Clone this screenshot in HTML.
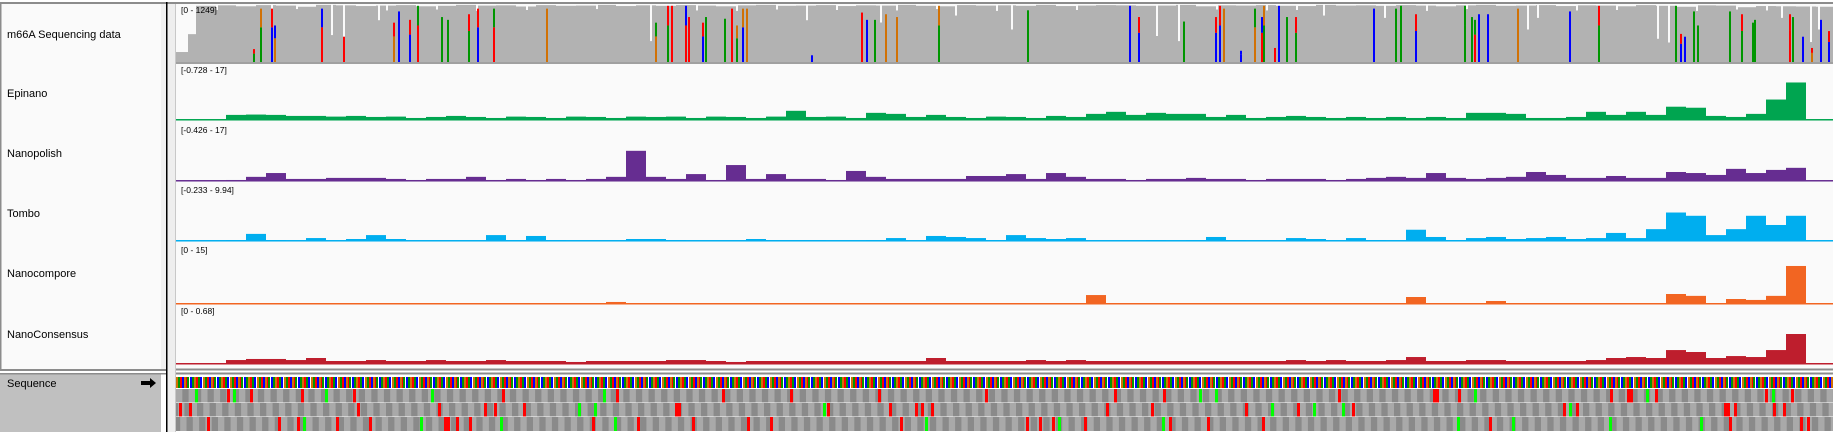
<!DOCTYPE html>
<html><head><meta charset="utf-8"><style>
html,body{margin:0;padding:0;background:#fff;}
svg{display:block;font-family:"Liberation Sans",sans-serif;}
</style></head><body>
<svg id="chart" width="1833" height="432" viewBox="0 0 1833 432" xmlns="http://www.w3.org/2000/svg">
<defs>
<pattern id="seqpat" x="176" y="0" width="27" height="12" patternUnits="userSpaceOnUse">
<rect x="0" y="0" width="2" height="12" fill="#d17105"/><rect x="2" y="0" width="2" height="12" fill="#009600"/><rect x="4" y="0" width="2" height="12" fill="#ff0000"/><rect x="6" y="0" width="2" height="12" fill="#0000ff"/><rect x="8" y="0" width="2" height="12" fill="#d17105"/><rect x="10" y="0" width="1" height="12" fill="#ff0000"/><rect x="11" y="0" width="2" height="12" fill="#009600"/><rect x="13" y="0" width="1" height="12" fill="#ffffff"/><rect x="14" y="0" width="2" height="12" fill="#0000ff"/><rect x="16" y="0" width="2" height="12" fill="#009600"/><rect x="18" y="0" width="2" height="12" fill="#d17105"/><rect x="20" y="0" width="2" height="12" fill="#ff0000"/><rect x="22" y="0" width="2" height="12" fill="#009600"/><rect x="24" y="0" width="2" height="12" fill="#0000ff"/><rect x="26" y="0" width="1" height="12" fill="#ffffff"/>
</pattern>
<pattern id="codonpat" x="176" y="0" width="12.6" height="20" patternUnits="userSpaceOnUse">
<rect x="0" y="0" width="6.3" height="20" fill="#a9a9a9"/><rect x="6.3" y="0" width="6.3" height="20" fill="#8a8a8a"/>
</pattern>
<pattern id="codonpat2" x="178.1" y="0" width="12.6" height="20" patternUnits="userSpaceOnUse">
<rect x="0" y="0" width="6.3" height="20" fill="#a9a9a9"/><rect x="6.3" y="0" width="6.3" height="20" fill="#8a8a8a"/>
</pattern>
<pattern id="codonpat3" x="180.2" y="0" width="12.6" height="20" patternUnits="userSpaceOnUse">
<rect x="0" y="0" width="6.3" height="20" fill="#a9a9a9"/><rect x="6.3" y="0" width="6.3" height="20" fill="#8a8a8a"/>
</pattern>
</defs>
<!-- name panel -->
<rect x="0" y="2" width="166" height="368" fill="#fafafa"/>
<rect x="161" y="4" width="5" height="366" fill="#f0f0f0"/>
<rect x="0" y="2" width="1833" height="2" fill="#8c8c8c"/>
<rect x="0" y="2" width="1.5" height="368" fill="#8c8c8c"/>
<rect x="0" y="369" width="166" height="2" fill="#8c8c8c"/>
<rect x="0" y="374" width="161" height="58" fill="#c0c0c0"/>
<rect x="0" y="373" width="166" height="1.5" fill="#8c8c8c"/>
<rect x="166" y="2" width="1.5" height="430" fill="#000"/>
<rect x="167.5" y="4" width="8" height="428" fill="#eeeeee"/>
<rect x="175" y="4" width="1" height="428" fill="#c8c8c8"/>
<rect x="176" y="4" width="1657" height="365" fill="#fafafa"/>
<rect x="176" y="375" width="1657" height="57" fill="#ffffff"/>
<rect x="176" y="62" width="1657" height="2" fill="#a0a0a0"/>
<rect x="176" y="368.5" width="1657" height="2" fill="#8c8c8c"/>
<rect x="176" y="372.5" width="1657" height="2" fill="#8c8c8c"/>

<text x="7" y="38" font-size="11" fill="#000">m66A Sequencing data</text>
<text x="7" y="97" font-size="11" fill="#000">Epinano</text>
<text x="7" y="157" font-size="11" fill="#000">Nanopolish</text>
<text x="7" y="217" font-size="11" fill="#000">Tombo</text>
<text x="7" y="277" font-size="11" fill="#000">Nanocompore</text>
<text x="7" y="338" font-size="11" fill="#000">NanoConsensus</text>
<text x="7" y="387" font-size="11" fill="#000">Sequence</text>
<path d="M141 381 h9 v-3 l6 5 l-6 5 v-3 h-9 z" fill="#000"/>

<g id="cov"></g>
<g id="tracks"></g>
<rect x="176" y="377" width="1657" height="11" fill="url(#seqpat)"/>
<rect x="176" y="389" width="1657" height="13.5" fill="url(#codonpat)"/>
<rect x="176" y="403" width="1657" height="13.5" fill="url(#codonpat2)"/>
<rect x="176" y="417" width="1657" height="14" fill="url(#codonpat3)"/>
<g id="codons"></g>
<g id="labels"></g>
</svg>
<script>
// ---- data ----
const covBinSize = 20;
const coverage = [600,1210,1220,1200,1225,1215,1190,1230,1220,1205,1215,1225,1200,1210,1230,1215,1220,1195,1225,1210,1215,1230,1205,1220,1210,1225,1215,1200,1220,1230,1210,1215,1225,1205,1220,1215,1230,1210,1200,1225,1215,1220,1210,1230,1205,1215,1225,1220,1210,1215,1230,1200,1220,1215,1225,1210,1205,1230,1215,1220,1210,1225,1215,1200,1220,1230,1210,1215,1225,1205,1220,1215,1200,1225,1210,1190,1220,1215,1180,1205,1200,1195,1190];
const notchPos = [155,167,202,474,630,704,779,835,980,1002,1147,1208,1351,1361,1481,1492,1605,1634,1642,40,95,120,210,260,300,350,420,520,560,600,660,720,760,820,900,1040,1090,1120,1250,1290,1400,1440,1520,1560,1590];
const notchVal = [580,540,900,450,900,850,1000,700,560,450,1000,950,700,950,500,420,950,430,700,1120,1100,1140,1110,1130,1100,1120,1140,1110,1100,1130,1120,1110,1140,1100,1120,1130,1110,1120,1100,1140,1110,1120,1100,1130,1110];
const mmPos  = [77,84,95,98,145,167,217,222,233,241,265,271,292,301,317,370,479,491,495,509,512,526,529,548,555,560,566,570,635,685,690,698,709,720,762,851,953,962,1007,1039,1043,1047,1064,1078,1085,1087,1098,1102,1110,1119,1197,1219,1224,1239,1288,1295,1298,1302,1311,1341,1393,1422,1499,1504,1508,1517,1521,1553,1565,1576,1578,1613,1616,1626,1635,1644,1652];
const mmBase = ["A","A","C","G","T","T","G","C","C","T","A","A","A","C","T","G","G","A","T","T","T","C","A","A","T","A","C","G","C","T","C","A","G","G","A","A","C","C","A","C","C","G","C","G","T","A","T","C","A","A","C","A","A","C","A","A","T","C","C","G","C","A","A","C","C","A","A","A","A","A","A","T","A","C","G","C","C"];
const mmTop  = ["T","G","T","C","C","","T","","T","A","","","T","T","A","","A","T","","C","","T","","","","G","G","","","","","","","","G","","","T","","T","T","","C","A","C","G","","","","T","","","","T","A","","A","","","","","T","","T","","","","","T","","","T","","","T","","T"];
const mmFrac = [0.23,0.95,0.95,0.65,0.95,0.45,0.7,0.9,0.75,1.0,0.8,0.75,0.85,0.95,0.95,0.95,0.7,1.0,1.0,1.0,0.8,0.7,0.8,0.77,0.95,0.65,0.95,0.95,0.12,0.88,0.75,0.75,0.85,0.8,1.0,0.92,1.0,0.8,0.72,0.8,1.0,0.95,0.2,0.95,0.8,1.0,0.25,1.0,0.8,0.8,0.95,0.95,1.0,0.85,1.0,0.8,0.75,0.85,0.85,0.95,0.9,1.0,1.0,0.5,0.45,0.9,0.65,0.9,0.85,0.7,0.75,0.85,0.8,0.45,0.25,0.75,0.55];

const sigStart = 50, sigBin = 20;
const epinano = [1.5,1.6,1.5,1.2,1.2,1.0,1.2,0.9,1.0,0.6,0.9,1.2,0.9,0.6,1.0,0.9,0.6,1.0,0.9,0.6,1.0,0.9,1.0,0.6,1.0,0.9,0.6,1.0,2.7,0.9,1.0,0.6,2.1,1.8,0.9,1.5,0.9,0.6,1.0,0.9,0.6,1.2,0.9,1.8,2.4,1.5,2.1,1.8,1.8,0.9,1.5,0.6,0.9,1.2,0.9,0.6,0.9,0.6,0.9,0.6,0.9,0.6,2.1,2.1,1.8,0.6,0.6,0.9,2.4,1.5,2.4,1.5,3.9,3.6,1.2,0.9,1.8,6.0,11.0];
const nanopolish = [0.3,1.2,2.3,0.6,0.6,0.9,0.9,0.9,0.6,0.3,0.6,0.6,1.2,0.3,0.6,0.3,0.6,0.3,0.6,1.2,8.7,1.2,0.6,2.0,0.3,4.6,0.6,2.0,0.6,0.6,0.3,2.9,1.2,0.6,0.6,0.6,0.6,1.45,1.45,2.0,0.6,2.3,1.2,0.6,0.6,0.3,0.6,0.6,0.9,0.6,0.6,0.3,0.6,0.6,0.6,0.3,0.6,0.9,1.2,0.9,2.3,0.9,0.6,0.9,1.2,2.6,1.75,0.9,0.9,1.45,0.9,0.9,2.6,2.3,1.75,3.5,2.3,3.2,3.8];
const tombo = [0.17,1.2,0.17,0,0.5,0,0.34,1.0,0.34,0,0,0,0,1.0,0.17,0.85,0.17,0,0,0,0.34,0.34,0.17,0,0,0,0.34,0.17,0.17,0.17,0,0,0.17,0.5,0,0.85,0.68,0.5,0.17,1.0,0.5,0.34,0.5,0,0,0,0.17,0,0.17,0.68,0.17,0,0,0.5,0.34,0,0.5,0.17,0,1.9,0.68,0.17,0.5,0.68,0.34,0.5,0.68,0.34,0.5,1.36,0.5,2.0,4.8,4.25,1.0,2.0,4.25,2.7,4.25];
const nanocompore = [0,0,0,0,0,0,0,0,0,0,0,0,0,0,0,0,0,0,0,0.5,0,0,0,0,0,0,0,0,0,0.12,0.12,0,0,0,0,0,0,0,0,0.12,0,0,0,2.2,0,0,0,0,0,0,0,0,0,0,0,0,0,0,0.12,1.72,0,0,0,0.74,0,0,0,0,0,0.12,0,0,2.46,2.0,0,1.23,1.0,2.0,9.35];
const nanoconsensus = [0.045,0.057,0.057,0.045,0.068,0.034,0.034,0.045,0.034,0.034,0.045,0.034,0.034,0.045,0.034,0.034,0.034,0.023,0.034,0.034,0.034,0.034,0.045,0.045,0.034,0.023,0.034,0.034,0.034,0.034,0.034,0.034,0.034,0.034,0.034,0.068,0.034,0.034,0.034,0.034,0.045,0.034,0.045,0.034,0.034,0.034,0.034,0.034,0.034,0.034,0.034,0.034,0.034,0.045,0.034,0.045,0.034,0.034,0.045,0.079,0.034,0.034,0.045,0.045,0.034,0.034,0.034,0.034,0.045,0.068,0.079,0.068,0.158,0.136,0.068,0.09,0.079,0.158,0.34];

const rangeLabels = ["[0 - 1249]","[-0.728 - 17]","[-0.426 - 17]","[-0.233 - 9.94]","[0 - 15]","[0 - 0.68]"];

const frame1Red = [228,251,302,354,503,617,723,791,879,986,1115,1164,1339,1459,1611,1656,1766,1792];
const frame1Green = [196,234,326,432,604,1200,1216,1475,1647,1773];
const frame1Wide = [1434,1628];
const frame2Red = [180,190,358,439,485,495,524,828,890,916,922,932,1107,1152,1246,1298,1353,1564,1577,1735,1774,1784];
const frame2Green = [579,595,824,1272,1314,1343,1570];
const frame2Wide = [676,1725];
const frame3Red = [208,279,298,337,370,457,470,593,638,693,748,771,901,1027,1040,1053,1085,1170,1208,1263,1490,1730,1801,1808];
const frame3Green = [304,421,501,615,926,1059,1163,1458,1513,1610,1701];
const frame3Wide = [445];

// ---- rendering ----
const NS = "http://www.w3.org/2000/svg";
const X0 = 176;
const xScale = p => X0 + p;
const baseColor = {A:"#009600",C:"#0000ff",G:"#d17105",T:"#ff0000"};
function mk(tag, attrs, parent){const e=document.createElementNS(NS,tag);for(const k in attrs)e.setAttribute(k,attrs[k]);parent.appendChild(e);return e;}

const covG = document.getElementById('cov');
const covTop = 4, covBot = 62, covMax = 1249;
const covY = v => covBot - v/covMax*(covBot-covTop);
coverage.forEach((v,i)=>{
  const r = mk('rect',{x:xScale(i*covBinSize),y:covY(v),width:covBinSize,height:covBot-covY(v),fill:"#b2b2b2"},covG);
  
  
});
mk('rect',{x:xScale(0),y:covY(1249),width:12,height:covY(215)-covY(1249),fill:"#fafafa"},covG);
notchPos.forEach((p,i)=>{
  const r = mk('rect',{x:xScale(p),y:covTop,width:2,height:covY(notchVal[i])-covTop,fill:"#fafafa"},covG);
  
  
});
mmPos.forEach((p,i)=>{
  const full = covBot - covY(1210);
  const h = mmFrac[i]*full;
  const hasTop = mmTop[i] !== "";
  const hMain = hasTop ? h*0.65 : h;
  const r = mk('rect',{x:xScale(p),y:covBot-hMain,width:2,height:hMain,fill:baseColor[mmBase[i]]},covG);
  
  
  if(hasTop){
    const r2 = mk('rect',{x:xScale(p),y:covBot-h,width:2,height:h-hMain,fill:baseColor[mmTop[i]]},covG);
    
    
  }
});

const trG = document.getElementById('tracks');
const tracks = [
  {name:"epinano", data:epinano, min:-0.728, max:17, top:62, bot:122.5, color:"#00a550"},
  {name:"nanopolish", data:nanopolish, min:-0.426, max:17, top:122, bot:182.5, color:"#662d91"},
  {name:"tombo", data:tombo, min:-0.233, max:9.94, top:182, bot:242.4, color:"#00aeef"},
  {name:"nanocompore", data:nanocompore, min:0, max:15, top:243, bot:304, color:"#f26522"},
  {name:"nanoconsensus", data:nanoconsensus, min:0, max:0.68, top:304, bot:364, color:"#be1e2d"}
];
tracks.forEach(t=>{
  const y = v => t.bot - (v - t.min)/(t.max - t.min)*(t.bot - t.top);
  const y0 = y(0);
  const base = mk('rect',{x:X0,y:y0-1,width:1657,height:1.5,fill:t.color},trG);
  
  
  t.data.forEach((v,i)=>{
    if(v<=0) return;
    const r = mk('rect',{x:xScale(sigStart+i*sigBin),y:y(v),width:sigBin,height:y0-y(v),fill:t.color},trG);
    
    
  });
});

const lab = document.getElementById('labels');
const labelY = [13,73,133,193,253,314];
rangeLabels.forEach((s,i)=>{
  const tx = mk('text',{x:181,y:labelY[i],'font-size':"8.5",fill:"#000"},lab);
  tx.textContent = s;
  
  
});

const cg = document.getElementById('codons');
function marks(list, color, w, y, h){
  list.forEach(x=>{
    const r = mk('rect',{x:x-1,y:y,width:w,height:h,fill:color},cg);
    
    
  });
}
marks(frame1Red,"#ff0000",3,389,13.5); marks(frame1Green,"#00ff00",3,389,13.5); marks(frame1Wide,"#ff0000",6,389,13.5);
marks(frame2Red,"#ff0000",3,403,13.5); marks(frame2Green,"#00ff00",3,403,13.5); marks(frame2Wide,"#ff0000",6,403,13.5);
marks(frame3Red,"#ff0000",3,417,14); marks(frame3Green,"#00ff00",3,417,14); marks(frame3Wide,"#ff0000",6,417,14);
</script>
</body></html>
